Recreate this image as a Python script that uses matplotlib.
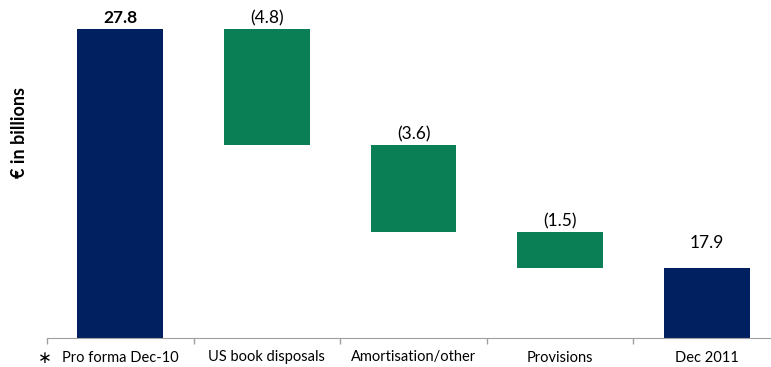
import numpy as np
import matplotlib.pyplot as plt

plt.rcParams['font.family'] = ['Lato', 'DejaVu Sans']

categories = ['Pro forma Dec-10', 'US book disposals', 'Amortisation/other', 'Provisions', 'Dec 2011']
start_value = 27.8
changes = [-4.8, -3.6, -1.5]
end_value = 17.9

navy = '#002060'
green = '#0A7F55'

fig = plt.figure(figsize=(7.71, 3.67), dpi=100)
ax = fig.add_axes([47 / 771, 1 - 338 / 367, 733 / 771, 338 / 367])

x = np.arange(len(categories))
w = 0.585

# totals
ax.bar(x[0], start_value, width=w, color=navy)
ax.bar(x[-1], end_value, width=w, color=navy)

# steps down
level = start_value
for i, c in enumerate(changes):
    ax.bar(x[i + 1], -c, bottom=level + c, width=w, color=green)
    ax.annotate('(%.1f)' % abs(c), (x[i + 1], level), xytext=(0, 2),
                textcoords='offset points', ha='center', va='bottom', fontsize=12.5)
    level += c

ax.annotate('%.1f' % start_value, (x[0], start_value), xytext=(0, 2),
            textcoords='offset points', ha='center', va='bottom', fontsize=12.5, fontweight='bold')
ax.annotate('%.1f' % end_value, (x[-1], end_value), xytext=(0, 12),
            textcoords='offset points', ha='center', va='bottom', fontsize=12.5)

ax.set_xlim(-0.5, 4.5)
ax.set_ylim(15, 29)
ax.set_yticks([])
ax.set_xticks(x)
ax.set_xticklabels(categories, fontsize=10.5)
ax.set_xticks(np.arange(-0.5, 4.6, 1), minor=True)
ax.tick_params(axis='x', which='major', length=0, pad=9)
ax.tick_params(axis='x', which='minor', length=4, color='#A0A0A0', width=1)
for s in ['left', 'right', 'top']:
    ax.spines[s].set_visible(False)
ax.spines['bottom'].set_color('#A0A0A0')

fig.text(20 / 771, 1 - 133 / 367, '€ in billions', rotation=90, ha='center', va='center',
         fontsize=13, fontweight='bold')
fig.text(45 / 771, 1 - 358 / 367, '\u2217', ha='center', va='center', fontsize=12,
         family='DejaVu Sans')

fig.savefig('out.png', dpi=100)
